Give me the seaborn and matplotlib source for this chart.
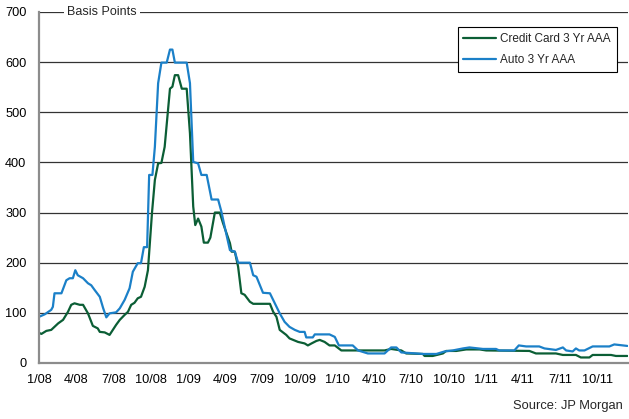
import pandas as pd
import seaborn as sns
import matplotlib
matplotlib.use("Agg")
from matplotlib import pyplot as plt
import matplotlib.dates as mdates

# Credit Card 3 Yr AAA spread (bp), vertices
cc_dates = [
    "2008-01-01", "2008-01-07", "2008-01-19", "2008-01-31", "2008-02-17", "2008-02-29",
    "2008-03-12", "2008-03-20", "2008-03-28", "2008-04-10", "2008-04-18", "2008-04-30",
    "2008-05-12", "2008-05-24", "2008-05-29", "2008-06-10", "2008-06-22", "2008-07-08",
    "2008-07-17", "2008-07-29", "2008-08-06", "2008-08-14", "2008-08-22", "2008-08-30",
    "2008-09-07", "2008-09-16", "2008-09-24", "2008-10-04", "2008-10-11", "2008-10-19",
    "2008-10-27", "2008-11-04", "2008-11-17", "2008-11-23", "2008-11-29", "2008-12-07",
    "2008-12-16", "2008-12-28", "2009-01-05", "2009-01-13", "2009-01-18", "2009-01-25",
    "2009-02-02", "2009-02-08", "2009-02-18", "2009-02-24", "2009-03-07", "2009-03-19",
    "2009-03-27", "2009-04-13", "2009-04-17", "2009-04-25", "2009-05-03", "2009-05-11",
    "2009-05-19", "2009-06-01", "2009-06-09", "2009-07-20", "2009-07-28", "2009-08-05",
    "2009-08-13", "2009-08-29", "2009-09-06", "2009-09-27", "2009-10-13", "2009-10-21",
    "2009-10-30", "2009-11-11", "2009-11-19", "2009-12-01", "2009-12-13", "2009-12-26",
    "2010-01-11", "2010-04-27", "2010-05-13", "2010-06-07", "2010-06-19", "2010-07-30",
    "2010-08-03", "2010-08-23", "2010-09-17", "2010-09-25", "2010-10-20", "2010-11-13",
    "2010-12-16", "2011-01-01", "2011-04-17", "2011-05-03", "2011-06-21", "2011-07-08",
    "2011-08-09", "2011-08-21", "2011-09-11", "2011-09-19", "2011-11-03", "2011-11-15",
    "2011-12-13",
]
cc_values = [
    60, 58, 64, 66, 79, 86,
    102, 116, 119, 116, 116, 99,
    74, 69, 62, 61, 56, 76,
    86, 96, 102, 116, 120, 129,
    132, 152, 185, 300, 365, 398,
    399, 431, 547, 551, 574, 574,
    547, 547, 458, 312, 275, 288,
    272, 240, 240, 250, 300, 300,
    279, 239, 222, 222, 192, 139,
    136, 122, 118, 118, 102, 92,
    66, 56, 49, 42, 39, 35,
    39, 44, 46, 42, 35, 35,
    25, 25, 28, 25, 19, 18,
    14, 14, 19, 24, 24, 27,
    27, 25, 24, 19, 19, 16,
    16, 11, 11, 16, 16, 14,
    14,
]

# Auto 3 Yr AAA spread (bp)
auto_dates = [
    "2008-01-01", "2008-01-15", "2008-01-31", "2008-02-04", "2008-02-08", "2008-02-25",
    "2008-03-08", "2008-03-16", "2008-03-24", "2008-03-30", "2008-04-05", "2008-04-18",
    "2008-04-30", "2008-05-08", "2008-05-16", "2008-05-29", "2008-06-06", "2008-06-14",
    "2008-06-22", "2008-07-08", "2008-07-17", "2008-07-29", "2008-08-10", "2008-08-18",
    "2008-08-30", "2008-09-07", "2008-09-14", "2008-09-22", "2008-09-27", "2008-10-05",
    "2008-10-11", "2008-10-19", "2008-10-27", "2008-11-09", "2008-11-17", "2008-11-23",
    "2008-11-29", "2008-12-28", "2009-01-05", "2009-01-13", "2009-01-25", "2009-02-02",
    "2009-02-15", "2009-02-27", "2009-03-15", "2009-03-23", "2009-03-31", "2009-04-13",
    "2009-04-25", "2009-05-03", "2009-06-01", "2009-06-09", "2009-06-17", "2009-07-03",
    "2009-07-20", "2009-08-01", "2009-08-13", "2009-08-25", "2009-09-06", "2009-09-19",
    "2009-10-01", "2009-10-13", "2009-10-17", "2009-11-02", "2009-11-07", "2009-12-13",
    "2009-12-26", "2010-01-05", "2010-02-08", "2010-02-21", "2010-03-17", "2010-04-27",
    "2010-05-13", "2010-05-26", "2010-06-07", "2010-07-14", "2010-07-30", "2010-09-01",
    "2010-09-21", "2010-10-11", "2010-11-05", "2010-11-21", "2010-12-24", "2011-01-25",
    "2011-02-02", "2011-03-11", "2011-03-22", "2011-04-09", "2011-05-11", "2011-05-24",
    "2011-06-21", "2011-07-08", "2011-07-16", "2011-08-01", "2011-08-09", "2011-08-17",
    "2011-08-30", "2011-09-19", "2011-10-30", "2011-11-11", "2011-12-13",
]
auto_values = [
    92, 97, 106, 112, 139, 139,
    165, 169, 169, 185, 175, 169,
    159, 155, 146, 132, 110, 91,
    99, 101, 109, 126, 149, 182,
    199, 199, 231, 231, 375, 375,
    431, 558, 599, 599, 625, 625,
    599, 599, 558, 401, 398, 375,
    375, 326, 326, 302, 272, 225,
    222, 200, 200, 175, 172, 140,
    139, 119, 99, 82, 72, 66,
    62, 62, 51, 51, 57, 57,
    52, 35, 35, 25, 19, 19,
    31, 31, 21, 19, 18, 18,
    23, 25, 29, 31, 28, 28,
    25, 25, 35, 33, 33, 29,
    26, 31, 25, 23, 29, 25,
    25, 33, 33, 37, 34,
]

series_names = ["Credit Card 3 Yr AAA", "Auto 3 Yr AAA"]
series_colors = ["#0b5e35", "#1b80c8"]
quarter_ticks = pd.date_range("2008-01-01", "2011-10-01", freq="QS")

df = pd.concat([
    pd.DataFrame({"date": pd.to_datetime(cc_dates), "bp": cc_values, "series": series_names[0]}),
    pd.DataFrame({"date": pd.to_datetime(auto_dates), "bp": auto_values, "series": series_names[1]}),
])

sns.set_theme(style="white")
plt.rcParams["font.family"] = ["Liberation Sans", "DejaVu Sans"]

fig = plt.figure(figsize=(6.29, 4.19), dpi=100)
ax = fig.add_axes([0.062, 0.1337, 0.936, 0.8377])

sns.lineplot(data=df, x="date", y="bp", hue="series", hue_order=series_names,
             palette=series_colors, linewidth=1.6, ax=ax, estimator=None, sort=True)

ax.set_xlim(pd.Timestamp("2008-01-01"), pd.Timestamp("2011-12-14"))
ax.set_ylim(0, 700)
ax.set_yticks(range(0, 701, 100))
ax.set_xticks(quarter_ticks)
ax.xaxis.set_major_formatter(mdates.DateFormatter("%-m/%y"))
ax.tick_params(axis="both", length=0, labelsize=9.2, colors="black")
ax.tick_params(axis="x", pad=8)
ax.tick_params(axis="y", pad=9)
ax.set_xlabel("")
ax.set_ylabel("")

ax.yaxis.grid(True, color="#333333", linewidth=0.9)
ax.set_axisbelow(True)
for side in ["top", "right"]:
    ax.spines[side].set_visible(False)
for side in ["left", "bottom"]:
    ax.spines[side].set_color("#8c8c8c")
    ax.spines[side].set_linewidth(1.6)

ax.text(pd.Timestamp("2008-03-10"), 700, "Basis Points", fontsize=9.0, va="center", ha="left",
        bbox=dict(facecolor="white", edgecolor="none", pad=2.5), clip_on=False, zorder=5)

leg = ax.legend(loc="upper right", bbox_to_anchor=(0.981, 0.957), borderaxespad=0,
                fontsize=8.5, frameon=True, fancybox=False, handlelength=2.8,
                labelspacing=0.8, borderpad=0.5, handletextpad=0.3)
leg.get_frame().set_edgecolor("black")
leg.get_frame().set_linewidth(0.8)
leg.get_frame().set_alpha(1)
for line in leg.get_lines():
    line.set_linewidth(1.6)

fig.text(0.99, 0.03, "Source: JP Morgan", fontsize=9.3, ha="right", va="center")

fig.savefig("out.png", dpi=100)
